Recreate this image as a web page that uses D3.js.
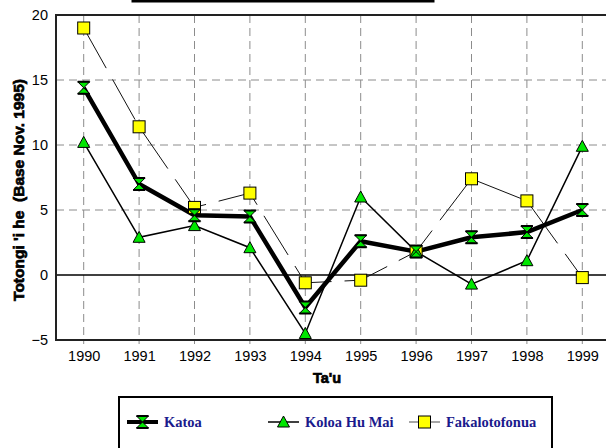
<!DOCTYPE html>
<html>
<head>
<meta charset="utf-8">
<script src="https://cdn.jsdelivr.net/npm/d3@7"></script>
<style>
  body { margin: 0; background: #fff; }
  svg { display: block; }
</style>
</head>
<body>
<div id="chart"></div>
<script>
// values
let years = ['1990', '1991', '1992', '1993', '1994', '1995', '1996', '1997', '1998', '1999'];
let katoa = [14.4, 7.0, 4.6, 4.5, -2.5, 2.6, 1.8, 2.9, 3.3, 5.0];
let koloaHuMai = [10.2, 2.9, 3.8, 2.1, -4.5, 6.0, 1.8, -0.7, 1.1, 9.9];
let fakalotofonua = [19.0, 11.4, 5.2, 6.3, -0.6, -0.4, 1.8, 7.4, 5.7, -0.2];
let yTicks = [-5, 0, 5, 10, 15, 20];
let seriesNames = ['Katoa', 'Koloa Hu Mai', 'Fakalotofonua'];

const width = 606, height = 448;
const plotLeft = 56, plotTop = 15, plotRight = 610, plotBottom = 340;

let svg = d3.select('#chart').append('svg')
    .attr('width', width)
    .attr('height', height);

let x = d3.scalePoint().domain(years).range([plotLeft, plotRight]).padding(0.5);
let y = d3.scaleLinear().domain([-5, 20]).range([plotBottom, plotTop]);

// title frame, mostly off the top edge
svg.append('rect')
    .attr('x', 133).attr('y', -40)
    .attr('width', 300).attr('height', 41)
    .attr('fill', '#fff')
    .attr('stroke', '#000')
    .attr('stroke-width', 3);

// grid
let grid = svg.append('g');
grid.selectAll('line.v')
    .data(years)
    .enter().append('line')
    .attr('x1', d => x(d)).attr('x2', d => x(d))
    .attr('y1', plotTop).attr('y2', plotBottom + 4)
    .attr('stroke', '#8c8c8c')
    .attr('stroke-dasharray', '8,5');
grid.selectAll('line.h')
    .data(yTicks.filter(d => d > 0 && d < 20))
    .enter().append('line')
    .attr('x1', plotLeft).attr('x2', width)
    .attr('y1', d => y(d)).attr('y2', d => y(d))
    .attr('stroke', '#8c8c8c')
    .attr('stroke-dasharray', '8,5');

// zero line
svg.append('line')
    .attr('x1', plotLeft).attr('x2', width)
    .attr('y1', y(0)).attr('y2', y(0))
    .attr('stroke', '#000')
    .attr('stroke-width', 1.5);

// frame
svg.append('path')
    .attr('d', 'M' + width + ',' + plotTop + 'H' + plotLeft + 'V' + plotBottom + 'H' + width)
    .attr('fill', 'none')
    .attr('stroke', '#222')
    .attr('stroke-width', 2);

// axes labels
let yAxis = d3.axisLeft(y).tickValues(yTicks).tickSize(0).tickPadding(8);
svg.append('g')
    .attr('transform', 'translate(' + plotLeft + ',0)')
    .call(yAxis)
    .call(g => g.select('.domain').remove())
    .selectAll('text')
    .attr('font-family', 'Liberation Sans, Arial, sans-serif')
    .attr('font-size', 14.5)
    .attr('fill', '#000');

let xAxis = d3.axisBottom(x).tickSize(0).tickPadding(11);
svg.append('g')
    .attr('transform', 'translate(0,' + plotBottom + ')')
    .call(xAxis)
    .call(g => g.select('.domain').remove())
    .selectAll('text')
    .attr('font-family', 'Liberation Sans, Arial, sans-serif')
    .attr('font-size', 14.5)
    .attr('fill', '#000');

svg.append('text')
    .attr('x', 327).attr('y', 383)
    .attr('text-anchor', 'middle')
    .attr('font-family', 'Liberation Sans, Arial, sans-serif')
    .attr('font-weight', 'bold')
    .attr('font-size', 14.5)
    .attr('stroke', '#000').attr('stroke-width', 0.7)
    .text("Ta'u");

svg.append('text')
    .attr('transform', 'translate(24,' + 190 + ') rotate(-90)')
    .attr('text-anchor', 'middle')
    .attr('font-family', 'Liberation Sans, Arial, sans-serif')
    .attr('font-weight', 'bold')
    .attr('font-size', 15.5)
    .attr('stroke', '#000').attr('stroke-width', 0.7)
    .attr('xml:space', 'preserve')
    .text("Totongi 'i he  (Base Nov. 1995)");

// lines
let line = d3.line().x((d, i) => x(years[i])).y(d => y(d));

svg.append('path').datum(fakalotofonua)
    .attr('d', line)
    .attr('fill', 'none')
    .attr('stroke', '#111')
    .attr('stroke-width', 1)
    .attr('stroke-dasharray', '46,13');

svg.append('path').datum(koloaHuMai)
    .attr('d', line)
    .attr('fill', 'none')
    .attr('stroke', '#000')
    .attr('stroke-width', 1.5);

svg.append('path').datum(katoa)
    .attr('d', line)
    .attr('fill', 'none')
    .attr('stroke', '#000')
    .attr('stroke-width', 4.5)
    .attr('stroke-linejoin', 'round');

// markers
function hourglass(g)
{
    g.append('path')
        .attr('d', 'M-6,-6H6L0,0L6,6H-6L0,0Z')
        .attr('fill', '#00e600')
        .attr('stroke', '#000')
        .attr('stroke-width', 1);
    g.append('path')
        .attr('d', 'M-6,-6H6M-6,6H6')
        .attr('stroke', '#000')
        .attr('stroke-width', 2);
}
function triangle(g)
{
    g.append('path')
        .attr('d', 'M0,-6L6,5H-6Z')
        .attr('fill', '#00e600')
        .attr('stroke', '#000')
        .attr('stroke-width', 1);
}
function square(g)
{
    g.append('rect')
        .attr('x', -6).attr('y', -6)
        .attr('width', 12).attr('height', 12)
        .attr('fill', '#ffff00')
        .attr('stroke', '#000')
        .attr('stroke-width', 1);
}

function markers(data, shape)
{
    svg.append('g').selectAll('g')
        .data(data)
        .enter().append('g')
        .attr('transform', (d, i) => 'translate(' + x(years[i]) + ',' + y(d) + ')')
        .each(function () { shape(d3.select(this)); });
}
markers(fakalotofonua, square);
markers(koloaHuMai, triangle);
markers(katoa, hourglass);

// legend
let legend = svg.append('g');
legend.append('rect')
    .attr('x', 119).attr('y', 397)
    .attr('width', 433).attr('height', 70)
    .attr('fill', '#fff')
    .attr('stroke', '#000')
    .attr('stroke-width', 2);

let legendX = [127, 268, 409];
let legendStroke = [['#000', 4], ['#000', 1.5], ['#888', 1.5]];
let legendShape = [hourglass, triangle, square];
seriesNames.forEach(function (name, i)
{
    let g = legend.append('g').attr('transform', 'translate(' + legendX[i] + ',422)');
    g.append('line')
        .attr('x1', 0).attr('x2', 31)
        .attr('stroke', legendStroke[i][0])
        .attr('stroke-width', legendStroke[i][1]);
    let m = g.append('g').attr('transform', 'translate(15.5,0)');
    legendShape[i](m);
    g.append('text')
        .attr('x', 37).attr('y', 5)
        .attr('font-family', 'Liberation Serif, Times New Roman, serif')
        .attr('font-weight', 'bold')
        .attr('font-size', 14.5)
        .attr('fill', '#1a1a8c')
        .text(name);
});
</script>
</body>
</html>
